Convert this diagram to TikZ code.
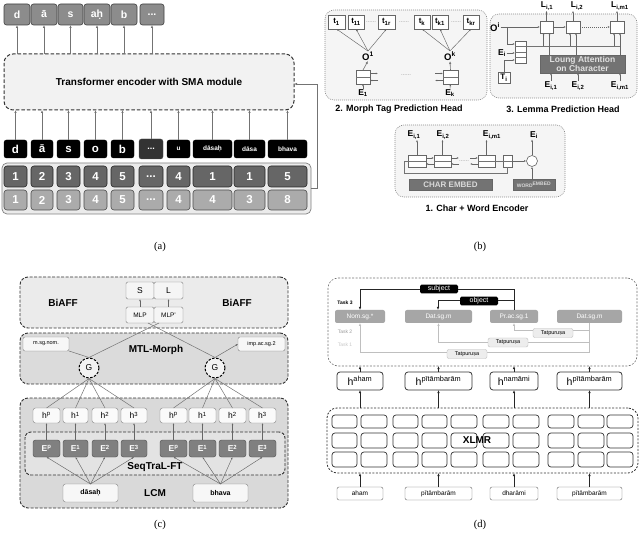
\documentclass[tikz,border=0pt]{standalone}
\usepackage{fontspec}
\setmainfont{Liberation Sans}
\newfontfamily\capfont{Liberation Serif}
\usetikzlibrary{arrows.meta}
\newcommand\ddd{...}
\newcommand\bx[7]{\node[inner sep=0pt,outer sep=0pt,#6,minimum width={((#4)-(#2))*1pt},minimum height={((#5)-(#3))*1pt}] (#1) at ({(#2+#4)/2},{(#3+#5)/2}) {#7};}
\tikzset{
 arr/.style={-{Latex[length=3pt,width=2.4pt]}, draw=black!55, line width=0.6pt},
 sarr/.style={-{Latex[length=2.2pt,width=1.8pt]}, draw=black!60, line width=0.45pt},
 ln/.style={draw=black!55, line width=0.5pt},
 contbox/.style={draw=black!50, fill=black!8, rounded corners=5pt, line width=0.7pt},
 encbox/.style={draw=black!80, dash pattern=on 3.5pt off 2pt, line width=1pt, fill=black!5, rounded corners=9pt, font=\bfseries\fontsize{10}{12}\selectfont},
 outbox/.style={draw=black!75, fill=black!45, rounded corners=2.5pt, line width=0.6pt, text=white, font=\bfseries\fontsize{10.5}{12}\selectfont},
 tokbig/.style={draw=black, fill=black, rounded corners=2.5pt, text=white, font=\bfseries\fontsize{11.5}{12}\selectfont},
 toksmall/.style={tokbig, font=\bfseries\fontsize{6.5}{8}\selectfont},
 tokdots/.style={draw=black!70, fill=black!80, rounded corners=2.5pt, text=white, font=\bfseries\fontsize{9}{10}\selectfont},
 numdark/.style={draw=black!85, fill=black!60, rounded corners=3pt, line width=0.6pt, text=white, font=\bfseries\fontsize{11.5}{12}\selectfont},
 numlight/.style={draw=black!70, fill=black!33, rounded corners=3pt, line width=0.6pt, text=white, font=\bfseries\fontsize{11.5}{12}\selectfont},
 dotbox/.style={draw=black!45, dash pattern=on 1pt off 1pt, fill=black!4, rounded corners=9pt, line width=0.6pt},
 blabel/.style={font=\bfseries\fontsize{9}{10}\selectfont, inner sep=0.5pt},
 tbox/.style={draw=black!60, fill=white, line width=0.6pt, font=\bfseries\fontsize{8}{9}\selectfont},
 onode/.style={font=\bfseries\fontsize{9.5}{10}\selectfont, inner sep=0.5pt},
 enode/.style={font=\bfseries\fontsize{8.5}{9}\selectfont, inner sep=0.5pt},
 dotsn/.style={text=black!45, font=\fontsize{6}{6}\selectfont, inner sep=0pt},
 cellbox/.style={draw=black!60, fill=white, line width=0.6pt},
 attbox/.style={draw=black!60, fill=black!55, text=black!12, align=center, font=\bfseries\fontsize{8.5}{9}\selectfont},
 embbox/.style={draw=black!60, fill=black!55, text=black!15, font=\bfseries\fontsize{8}{8}\selectfont},
 embbox2/.style={embbox, font=\bfseries\fontsize{5}{6}\selectfont},
 cbox1/.style={draw=black!80, dash pattern=on 3pt off 1.5pt, line width=0.9pt, fill=black!8, rounded corners=8pt},
 cbox2/.style={cbox1, fill=black!14},
 cbox3/.style={cbox1, fill=black!15},
 cbox4/.style={cbox1, fill=black!11, rounded corners=6pt},
 cbold/.style={font=\bfseries\fontsize{10}{11}\selectfont, inner sep=0.5pt},
 slbox/.style={draw=black!50, fill=black!4, rounded corners=1.5pt, font=\fontsize{8.5}{9}\selectfont},
 mlpbox/.style={slbox, font=\fontsize{6.5}{7}\selectfont},
 tagbox/.style={draw=black!50, fill=black!3, rounded corners=2pt, font=\fontsize{5.5}{6}\selectfont},
 gcirc/.style={circle, draw=black, dash pattern=on 2.5pt off 1.5pt, line width=1pt, fill=black!5, minimum size=20pt, font=\fontsize{8.5}{9}\selectfont, inner sep=0pt},
 hboxc/.style={draw=black!50, fill=black!2, rounded corners=2.5pt, font=\fontsize{8.5}{9}\selectfont},
 eboxc/.style={draw=black!70, fill=black!50, rounded corners=2.5pt, text=white, font=\bfseries\fontsize{8.5}{9}\selectfont},
 inbox/.style={draw=black!50, fill=black!3, rounded corners=2.5pt, font=\bfseries\fontsize{7}{8}\selectfont},
 dbox/.style={draw=black!55, dash pattern=on 2pt off 1.5pt, fill=white, rounded corners=10pt, line width=0.6pt},
 dbox2/.style={dbox, draw=black!80, line width=0.8pt},
 dtag/.style={fill=black!35, rounded corners=2pt, text=white, font=\fontsize{6.5}{7}\selectfont},
 sobox/.style={fill=black, text=white, rounded corners=1.5pt, font=\fontsize{7}{7}\selectfont, minimum width=38pt, minimum height=8pt, inner sep=1pt},
 darr/.style={-{Latex[length=3pt,width=2.4pt]}, draw=black!85, line width=0.8pt},
 tarr/.style={-{Latex[length=3pt,width=2.4pt]}, draw=black!25, line width=0.6pt},
 tpbox/.style={draw=black!25, fill=black!7, rounded corners=2pt, font=\fontsize{5.5}{6}\selectfont, minimum width=40pt, minimum height=9pt, inner sep=1pt},
 hboxd/.style={draw=black!80, fill=white, rounded corners=3pt, line width=0.8pt, font=\fontsize{10.5}{10}\selectfont},
 xcell/.style={draw=black!80, fill=white, rounded corners=3pt, line width=0.7pt},
 inbox2/.style={draw=black!60, fill=white, rounded corners=2pt, font=\fontsize{6.5}{7}\selectfont},
 tlab/.style={font=\bfseries\fontsize{5}{6}\selectfont, inner sep=0pt},
 capt/.style={font=\capfont\fontsize{10.5}{12}\selectfont},
}
\begin{document}
\begin{tikzpicture}[x=1pt,y=-1pt]
\useasboundingbox (0,0) rectangle (640,537);
%% ---------------- (a) ----------------
\bx{cont}{2}{163}{311}{214}{contbox}{}
\bx{enc}{4}{54}{294}{110}{encbox}{Transformer encoder with SMA module}
\foreach \xa/\xb/\t [count=\i] in {4/30/d,31/57/ā,58/83/s,84/110/aḥ,111/137/b,140/164/\ddd}{
 \bx{o\i}{\xa}{4}{\xb}{25}{outbox}{\t}
 \draw[arr] (o\i.south |- enc.north) -- (o\i.south);
}
\foreach \xa/\xb/\t/\i in {4/27/d/1,31/53/ā/2,57/80/s/3,84/107/o/4,111/134/b/5}{
 \bx{tk\i}{\xa}{140}{\xb}{158}{tokbig}{\t}
}
\bx{tk6}{139}{139}{163}{159}{tokdots}{\ddd}
\foreach \xa/\xb/\t/\i in {167/190/u/7,193/232/dāsaḥ/8,234/265/dāsa/9,268/307/bhava/10}{
 \bx{tk\i}{\xa}{140}{\xb}{158}{toksmall}{\t}
}
\foreach \i in {1,...,10}{\draw[arr] (tk\i.north) -- (tk\i.north |- enc.south);}
\foreach \xa/\xb/\nd/\nl [count=\i] in {4/27/1/1,31/53/2/2,57/80/3/3,84/107/4/4,111/134/5/5,139/163/\ddd/\ddd,167/190/4/4,193/232/1/4,234/265/1/3,268/307/5/8}{
 \bx{nd\i}{\xa}{166}{\xb}{187}{numdark}{\nd}
 \bx{nl\i}{\xa}{190}{\xb}{210}{numlight}{\nl}
}
\coordinate (fb) at (317,84);
\draw[arr] (cont.east) -| (fb) -- (fb -| enc.east);
\node[capt] (capa) at (160,247) {(a)};
%% ---------------- (b) ----------------
\bx{mth}{325}{10}{487}{100}{dotbox}{}
\node[blabel] (mthl) at (399,109) {2. Morph Tag Prediction Head};
\foreach \xa/\xb/\s [count=\i] in {328/345/1,348/364/11,378/395/1r,414/430/k,432/448/k1,463/479/kr}{
 \bx{t\i}{\xa}{15}{\xb}{29}{tbox}{t\textsubscript{\s}}
}
\node[dotsn] (dt1) at (371,22) {......};
\node[dotsn] (dt2) at (404,22) {......};
\node[dotsn] (dt3) at (456,22) {......};
\node[dotsn] (dt4) at (406,75) {......};
\node[onode] (O1) at (368,56) {O\textsuperscript{1}};
\node[onode] (Ok) at (450,56) {O\textsuperscript{k}};
\foreach \i in {1,2,3}{\draw[sarr] (O1.north) -- (t\i.south);}
\foreach \i in {4,5,6}{\draw[sarr] (Ok.north) -- (t\i.south);}
\bx{c1}{356}{70}{370}{84}{cellbox}{}
\bx{c2}{443}{70}{458}{84}{cellbox}{}
\draw[ln] (c1.west) -- (c1.east);
\draw[ln] (c2.west) -- (c2.east);
\draw[arr] (c1.north) -- (O1.south);
\draw[arr] (c2.north) -- (Ok.south);
\node[enode] (E1) at (363,93) {E\textsubscript{1}};
\node[enode] (Ek) at (450,93) {E\textsubscript{k}};
\draw[sarr] (E1.north) -- (c1.south);
\draw[sarr] (Ek.north) -- (c2.south);
\draw[sarr] ([yshift=3.5pt]c1.east) -- ++(8,0);
\draw[sarr] ([xshift=8pt,yshift=-3.5pt]c1.east) -- ([yshift=-3.5pt]c1.east);
\draw[sarr] ([xshift=-8pt,yshift=3.5pt]c2.west) -- ([yshift=3.5pt]c2.west);
\draw[sarr] ([yshift=-3.5pt]c2.west) -- ++(-8,0);
% lemma head
\bx{lph}{490}{14}{637}{98}{dotbox}{}
\node[blabel] (lphl) at (563,109) {3. Lemma Prediction Head};
\bx{lb1}{540}{21}{553}{33}{cellbox}{}
\bx{lb2}{566}{21}{580}{33}{cellbox}{}
\bx{lb3}{610}{21}{624}{33}{cellbox}{}
\node[enode] (L1) at (547,6) {L\textsubscript{i,1}};
\node[enode] (L2) at (577,6) {L\textsubscript{i,2}};
\node[enode] (L3) at (620,6) {L\textsubscript{i,m1}};
\foreach \i in {1,2,3}{\draw[sarr] (lb\i.north) -- (lb\i.north |- L\i.south);}
\draw[sarr] (lb1.east) -- (lb2.west);
\draw[sarr, dash pattern=on 1pt off 1pt] (lb2.east) -- (lb3.west);
\node[onode] (Oi) at (495,27) {O\textsuperscript{i}};
\draw[sarr] (Oi.east) -- (Oi.east -| lb1.west);
\bx{stk}{515}{41}{526}{63}{cellbox}{}
\draw[ln] (515,46.5) -- (526,46.5);
\draw[ln] (515,52) -- (526,52);
\draw[ln] (515,57.5) -- (526,57.5);
\coordinate (oj) at (507,27);
\coordinate (stkA) at (515,44);
\draw[sarr] (oj) |- (stkA);
\node[enode] (Ei) at (502,53) {E\textsubscript{i}};
\draw[sarr] (Ei.east) -- (Ei.east -| stk.west);
\bx{Ti}{498}{72}{510}{83}{tbox}{T\textsubscript{i}}
\coordinate (stkB) at (515,60);
\draw[sarr] (Ti.north) |- (stkB);
\coordinate (hl) at (621,46);
\draw[ln] (stk.east |- hl) -- (hl);
\bx{att}{540}{55}{625}{73}{attbox}{Loung Attention\\on Character}
\foreach \i in {1,2,3}{
 \draw[sarr] ([xshift=-3pt]lb\i.south |- hl) -- ([xshift=-3pt]lb\i.south);
 \draw[sarr] ([xshift=3pt]lb\i.south |- att.north) -- ([xshift=3pt]lb\i.south);
}
\node[enode] (Ea1) at (551,86) {E\textsubscript{i,1}};
\node[enode] (Ea2) at (578,86) {E\textsubscript{i,2}};
\node[enode] (Ea3) at (620,86) {E\textsubscript{i,m1}};
\foreach \i in {1,2,3}{\draw[sarr] (Ea\i.north) -- (Ea\i.north |- att.south);}
% char + word encoder
\bx{cwe}{395}{125}{565}{197}{dotbox}{}
\node[blabel] (cwel) at (477,208) {1. Char + Word Encoder};
\bx{e1}{408}{155}{426}{167}{cellbox}{}
\bx{e2}{434}{155}{451}{167}{cellbox}{}
\bx{e3}{478}{155}{495}{167}{cellbox}{}
\bx{e4}{503}{155}{512}{167}{cellbox}{}
\foreach \i in {1,2,3,4}{\draw[ln] (e\i.west) -- (e\i.east);}
\node[circle, draw=black!60, fill=white, minimum size=11pt, inner sep=0pt, line width=0.6pt] (cir) at (532,161) {};
\node[enode] (Ec1) at (414,135) {E\textsubscript{i,1}};
\node[enode] (Ec2) at (443,135) {E\textsubscript{i,2}};
\node[enode] (Ec3) at (492,135) {E\textsubscript{i,m1}};
\node[enode] (Eci) at (534,135) {E\textsubscript{i}};
\draw[sarr] (e1.north) -- (e1.north |- Ec1.south);
\draw[sarr] (e2.north) -- (e2.north |- Ec2.south);
\draw[sarr] (e3.north) -- (e3.north |- Ec3.south);
\draw[sarr] (cir.north) -- (cir.north |- Eci.south);
\draw[sarr] ([yshift=3pt]e1.east) -- ([yshift=3pt]e2.west);
\draw[sarr] ([yshift=-3pt]e2.west) -- ([yshift=-3pt]e1.east);
\draw[sarr] ([yshift=3pt]e2.east) -- ++(8,0);
\draw[sarr] ([xshift=8pt,yshift=-3pt]e2.east) -- ([yshift=-3pt]e2.east);
\draw[sarr] ([xshift=-8pt,yshift=3pt]e3.west) -- ([yshift=3pt]e3.west);
\draw[sarr] ([yshift=-3pt]e3.west) -- ++(-8,0);
\node[dotsn] (dt5) at (464,161) {......};
\draw[ln] (e3.east) -- (e4.west);
\draw[sarr] (e4.east) -- (cir.west);
\coordinate (lp1) at (404,161);
\coordinate (lp2) at (404,173);
\draw[ln] (e1.west) -- (lp1) -- (lp2) -| (e4.south);
\bx{chemb}{409}{179}{492}{190}{embbox}{CHAR EMBED}
\bx{wemb}{513}{179}{555}{190}{embbox2}{WORD\textsuperscript{EMBED}}
\draw[sarr] (cir.south |- wemb.north) -- (cir.south);
\node[capt] (capb) at (480,247) {(b)};
%% ---------------- (c) ----------------
\bx{biaff}{20}{277}{288}{328}{cbox1}{}
\node[cbold] (bl) at (63,303) {BiAFF};
\node[cbold] (br) at (237,303) {BiAFF};
\bx{S}{126}{282}{154}{299}{slbox}{S}
\bx{L}{154}{282}{183}{299}{slbox}{L}
\bx{M1}{126}{307}{154}{323}{mlpbox}{MLP}
\bx{M2}{154}{307}{183}{323}{mlpbox}{MLP'}
\draw[sarr] (M1.north) -- (S.south);
\draw[sarr] (M2.north) -- (L.south);
\bx{mtl}{20}{333}{288}{384}{cbox2}{}
\node[cbold] (mtll) at (156,350) {MTL-Morph};
\bx{tg1}{23}{337}{69}{351}{tagbox}{m.sg.nom.}
\bx{tg2}{238}{337}{285}{351}{tagbox}{imp.ac.sg.2}
\node[gcirc] (G1) at (89,368) {G};
\node[gcirc] (G2) at (215,368) {G};
\draw[ln] (G1.north) -- ([xshift=5pt]M1.south east);
\draw[ln] (G2.north) -- ([xshift=-6pt]M1.south east);
\draw[ln] (G1.north) -- (tg1.south east);
\draw[sarr] (G2.north) -- (tg2.west);
\bx{lcm}{20}{398}{288}{508}{cbox3}{}
\bx{seq}{25}{432}{285}{475}{cbox4}{}
\foreach \xa/\xb/\s [count=\i] in {33/60/p,63/88/1,92/118/2,121/147/3,160/187/p,189/216/1,219/246/2,249/276/3}{
 \bx{ch\i}{\xa}{408}{\xb}{423}{hboxc}{h\textsuperscript{\s}}
 \bx{ce\i}{\xa}{440}{\xb}{457}{eboxc}{E\textsuperscript{\s}}
 \draw[sarr] (ce\i.north) -- (ch\i.south);
}
\node[cbold] (seql) at (155,467) {SeqTraL-FT};
\bx{in1}{63}{484}{118}{502}{inbox}{dāsaḥ}
\bx{in2}{193}{484}{248}{502}{inbox}{bhava}
\node[cbold] (lcml) at (155,493) {LCM};
\foreach \i in {1,...,4}{
 \draw[sarr] (in1.north) -- (ce\i.south);
 \draw[ln] (G1.south) -- (ch\i.north);
}
\foreach \i in {5,...,8}{
 \draw[sarr] (in2.north) -- (ce\i.south);
 \draw[ln] (G2.south) -- (ch\i.north);
}
\node[capt] (capc) at (160,525) {(c)};
%% ---------------- (d) ----------------
\bx{tsk}{328}{278}{637}{366}{dbox}{}
\node[tlab] (tk3l) at (345,303) {Task 3};
\node[tlab, text=black!40, font=\fontsize{5}{6}\selectfont] (tk2l) at (345,332) {Task 2};
\node[tlab, text=black!22, font=\fontsize{5}{6}\selectfont] (tk1l) at (345,345) {Task 1};
\bx{g1}{335}{310}{385}{323}{dtag}{Nom.sg.*}
\bx{g2}{405}{310}{472}{323}{dtag}{Dat.sg.m}
\bx{g3}{490}{310}{538}{323}{dtag}{Pr.ac.sg.1}
\bx{g4}{557}{310}{622}{323}{dtag}{Dat.sg.m}
\coordinate (s1) at (514,289);
\coordinate (s2) at (360,289);
\draw[darr] (g3.north) -- (s1) -- (s2) -- (s2 |- g1.north);
\node[sobox] (subj) at (439,289) {subject};
\coordinate (ob1) at (514,300);
\coordinate (ob2) at (438,300);
\draw[darr] (ob1) -- (ob2) -- (ob2 |- g2.north);
\node[sobox] (obj) at (479,301) {object};
\coordinate (ta) at (589.5,330);
\coordinate (tb) at (589.5,342);
\coordinate (tc) at (589.5,352);
\draw[tarr] (g4.south) -- (tc) -| (g1.south);
\draw[tarr] (ta) -| (g3.south);
\draw[tarr] (tb) -| (g2.south);
\node[tpbox] (tp1) at (553,333) {Tatpuruṣa};
\node[tpbox] (tp2) at (508,342.5) {Tatpuruṣa};
\node[tpbox] (tp3) at (467,354) {Tatpuruṣa};
\bx{h1}{337}{372}{383}{390}{hboxd}{h\textsuperscript{aham}}
\bx{h2}{405}{372}{472}{390}{hboxd}{h\textsuperscript{pītāmbarām}}
\bx{h3}{490}{372}{538}{390}{hboxd}{h\textsuperscript{namāmi}}
\bx{h4}{557}{372}{622}{390}{hboxd}{h\textsuperscript{pītāmbarām}}
\bx{xl}{327}{408}{638}{473}{dbox2}{}
\foreach \xa/\xb in {332/357,361/387,393/418,422/447,451/477,483/509,513/539,548/574,578/604,607/633}{
 \foreach \ya/\yb in {415/428,433/448,452/467}{
  \bx{xc\xa-\ya}{\xa}{\ya}{\xb}{\yb}{xcell}{}
 }
}
\node[cbold] (xlmr) at (477,440) {XLMR};
\bx{w1}{337}{487}{383}{500}{inbox2}{aham}
\bx{w2}{405}{487}{472}{500}{inbox2}{pītāmbarām}
\bx{w3}{490}{487}{538}{500}{inbox2}{dharāmi}
\bx{w4}{557}{487}{622}{500}{inbox2}{pītāmbarām}
\foreach \i in {1,2,3,4}{
 \draw[arr, draw=black!85] (h\i.north) -- (h\i.north |- tsk.south);
 \draw[arr, draw=black!85] (h\i.south |- xl.north) -- (h\i.south);
 \draw[arr, draw=black!85] (w\i.north) -- (w\i.north |- xl.south);
}
\node[capt] (capd) at (480,525) {(d)};
\end{tikzpicture}
\end{document}
